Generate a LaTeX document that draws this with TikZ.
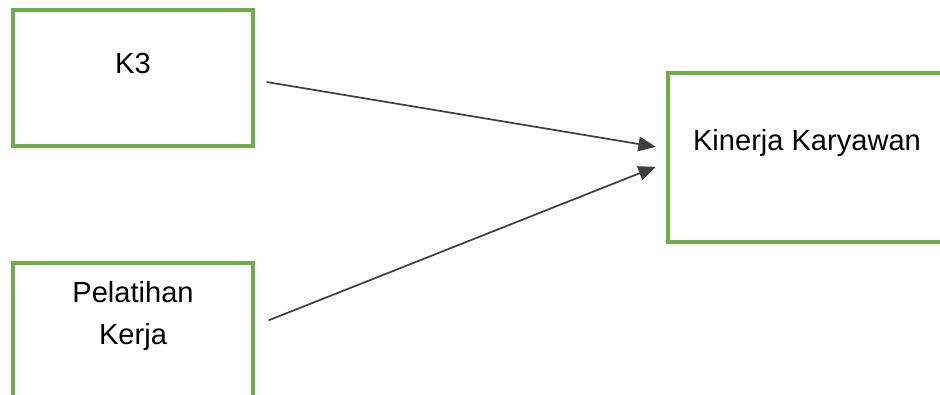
\documentclass[tikz,border=0pt]{standalone}
\usepackage{fontspec}
\setmainfont{Liberation Sans}
\usetikzlibrary{arrows.meta}
\definecolor{boxgreen}{HTML}{70AD47}
\definecolor{arrowgray}{HTML}{404040}
\begin{document}
\begin{tikzpicture}[x=0.75pt,y=-0.75pt,
  box/.style={draw=boxgreen,line width=2.4pt,minimum width=180pt,minimum height=102pt,inner sep=0pt},
  lbl/.style={font=\fontsize{21.8}{31.5}\selectfont,align=center,inner sep=0pt},
  arr/.style={draw=arrowgray,line width=1.3pt,-{Triangle[length=13pt,width=11pt]}}]
\useasboundingbox (0,0) rectangle (940,394);
\clip (0,0) rectangle (940,394);
\node[box] (k3) at (133,78) {};
\node[box] (pel) at (133,331) {};
\node[box,minimum width=208.5pt,minimum height=126.75pt] (kin) at (807,157.5) {};
\node[lbl] (k3txt) at (133,63) {K3};
\node[lbl] (peltxt) at (133,316) {Pelatihan\\Kerja};
\node[lbl] (kintxt) at (807,143) {Kinerja Karyawan};
\draw[arr] ([xshift=9pt,yshift=-3pt]k3.east) -- ([xshift=-8pt,yshift=8pt]kin.west);
\draw[arr] ([xshift=10.5pt,yshift=8pt]pel.east) -- ([xshift=-8pt,yshift=-7pt]kin.west);
\end{tikzpicture}
\end{document}
